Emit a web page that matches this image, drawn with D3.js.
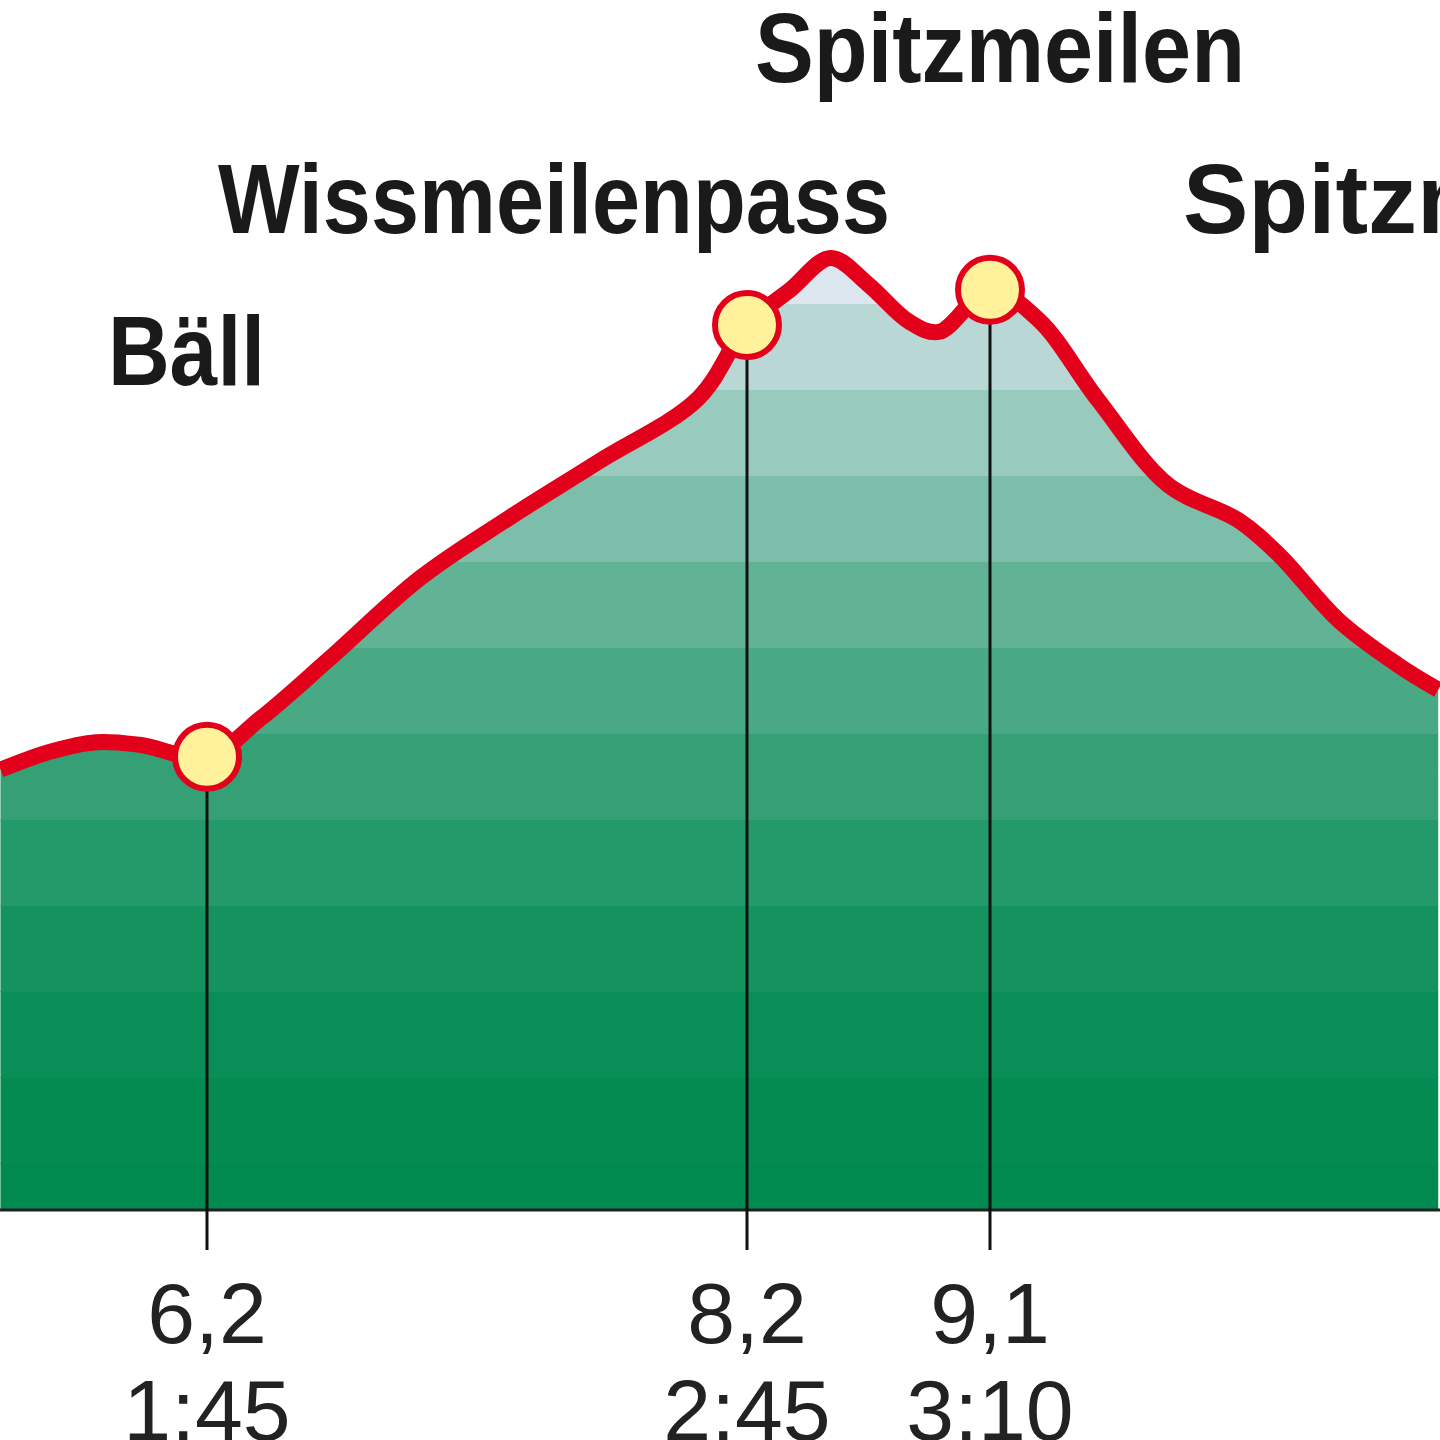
<!DOCTYPE html><html><head><meta charset="utf-8">
<script src="https://cdn.jsdelivr.net/npm/d3@7"></script>
<style>body{margin:0;background:#fff}svg{display:block}</style></head><body>
<script>
const km   = [5.435,5.62,5.79,5.95,6.2,6.40,6.65,6.99,7.32,7.65,8.02,8.2,8.36,8.51,8.65,8.80,8.91,9.1,9.28,9.50,9.76,10.02,10.17,10.39,10.61,10.76];
const elev = [1902,1923,1934,1931,1917,1962,2030,2125,2195,2260,2334,2419,2460,2497,2466,2423,2411,2460,2425,2332,2233,2192,2152,2076,2024,1995];
const stopKm = [6.2,8.2,9.1];
const stopElev = [1917,2419,2460];
const stopDist = ["6,2","8,2","9,1"];
const stopTime = ["1:45","2:45","3:10"];
const bandLevels = [1390,1445,1545,1645,1745,1845,1945,2045,2145,2245,2345,2445,2545,2700];
const names = ["Bäll","Wissmeilenpass","Spitzmeilen","Spitzmeilenhütte"];

const W=1440,H=1440;
const x=d3.scaleLinear().domain([6.2,9.1]).range([207,990]);
const y=d3.scaleLinear().domain([1390,2497]).range([1210,258]);
const svg=d3.select("body").append("svg").attr("width",W).attr("height",H);
const pts=km.map((k,i)=>[k,elev[i]]);
const area=d3.area().x(d=>x(d[0])).y0(y(1390)).y1(d=>y(d[1])).curve(d3.curveCatmullRom);
const line=d3.line().x(d=>x(d[0])).y(d=>y(d[1])).curve(d3.curveCatmullRom);
svg.append("clipPath").attr("id","c").append("path").attr("d",area(pts));
const col=d3.interpolateRgb("#008a50","#dce6ee");
const g=svg.append("g").attr("clip-path","url(#c)");
for(let i=0;i<bandLevels.length-1;i++){
  const t=Math.min(i/(bandLevels.length-3),1);
  g.append("rect").attr("x",0).attr("width",W).attr("shape-rendering","crispEdges")
   .attr("y",Math.round(y(bandLevels[i+1]))).attr("height",Math.round(y(bandLevels[i]))-Math.round(y(bandLevels[i+1]))+1)
   .attr("fill",col(Math.pow(t,1.8)));
}
svg.append("line").attr("x1",0).attr("x2",W).attr("y1",y(1390)).attr("y2",y(1390)).attr("stroke","#222").attr("stroke-width",3);
stopKm.forEach((k,i)=>{
  svg.append("line").attr("x1",x(k)).attr("x2",x(k)).attr("y1",y(stopElev[i])).attr("y2",1250).attr("stroke","#111").attr("stroke-width",3);
});
svg.append("path").attr("d",line(pts)).attr("fill","none").attr("stroke","#e2001a").attr("stroke-width",16).attr("stroke-linejoin","round");
stopKm.forEach((k,i)=>{
  svg.append("circle").attr("cx",x(k)).attr("cy",y(stopElev[i])).attr("r",32).attr("fill","#fff29a").attr("stroke","#e2001a").attr("stroke-width",6);
  svg.append("text").attr("x",x(k)).attr("y",1343).attr("text-anchor","middle").attr("font-family","Liberation Sans Narrow, Arial Narrow, sans-serif").attr("font-size",86).attr("fill","#222").text(stopDist[i]);
  svg.append("text").attr("x",x(k)).attr("y",1440).attr("text-anchor","middle").attr("font-family","Liberation Sans Narrow, Arial Narrow, sans-serif").attr("font-size",86).attr("fill","#222").text(stopTime[i]);
});
const lab=[[108,385,157],[218,233,672],[755,82,490],[1183,233,null]];
names.forEach((n,i)=>{
  const t=svg.append("text").attr("x",lab[i][0]).attr("y",lab[i][1]).attr("font-family","Liberation Sans Narrow, Arial Narrow, sans-serif").attr("font-weight","bold").attr("font-size",98).attr("fill","#1a1a1a").text(n);
  if(lab[i][2]) t.attr("textLength",lab[i][2]).attr("lengthAdjust","spacingAndGlyphs");
});
</script></body></html>
